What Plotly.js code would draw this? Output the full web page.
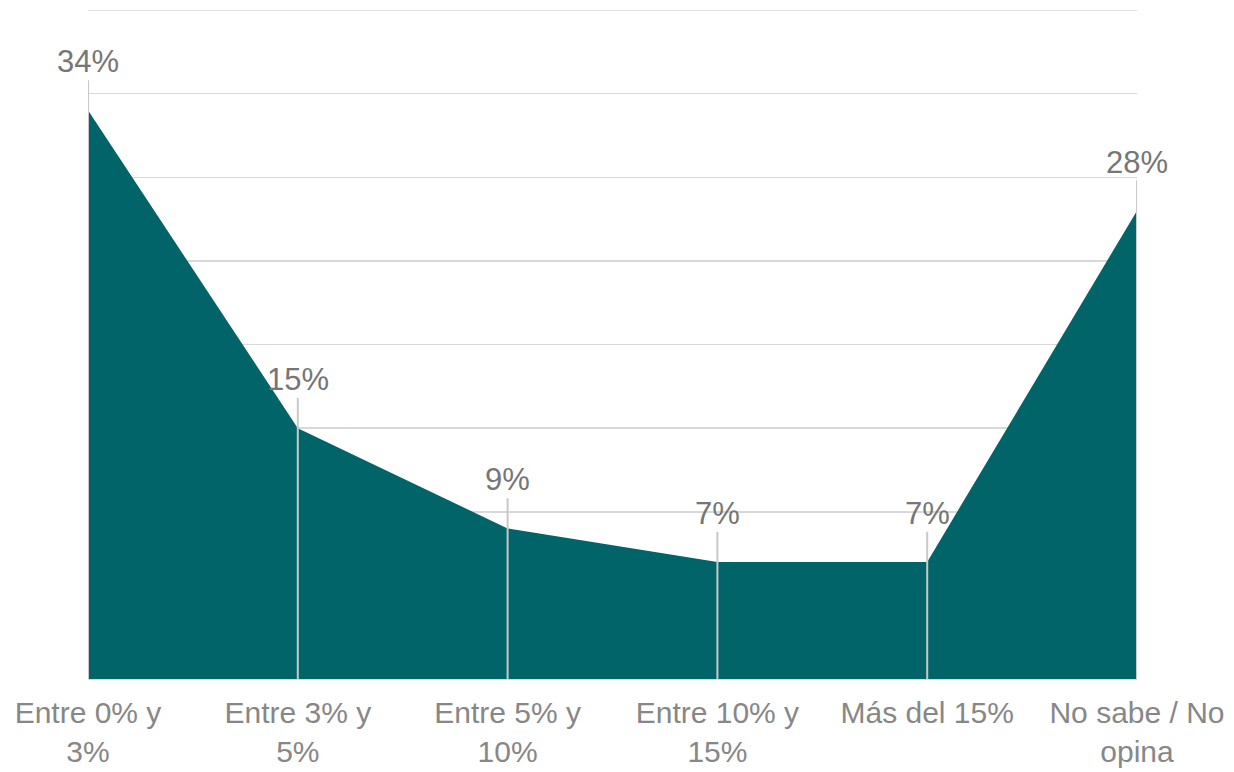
<!DOCTYPE html>
<html>
<head>
<meta charset="utf-8">
<script src="https://cdn.plot.ly/plotly-3.0.1.min.js"></script>
<style>html,body{margin:0;padding:0;background:#fff;}#chart{width:1234px;height:772px;}</style>
</head>
<body>
<div id="chart"></div>
<script>
var categories = ["Entre 0% y<br>3%", "Entre 3% y<br>5%", "Entre 5% y<br>10%", "Entre 10% y<br>15%", "Más del 15%", "No sabe / No<br>opina"];
var values = [34, 15, 9, 7, 7, 28];
var valueLabels = ["34%", "15%", "9%", "7%", "7%", "28%"];

var fillColor = "#006469";
var labelColor = "#767676";
var tickColor = "#878787";

var xs = categories.map(function(_, i){ return i; });

var trace = {
  x: xs,
  y: values,
  type: "scatter",
  mode: "lines",
  fill: "tozeroy",
  fillcolor: fillColor,
  line: {color: fillColor, width: 0},
  hoverinfo: "skip"
};

var shapes = xs.map(function(x, i){
  return {type: "line", xref: "x", yref: "y", x0: x, x1: x, y0: 0, y1: values[i] + 1.8,
          line: {color: "#c8c8c8", width: 2}, layer: "above"};
});
// top gridline at the range end
shapes.unshift({type: "line", xref: "paper", yref: "y", x0: 0, x1: 1, y0: 40, y1: 40,
                line: {color: "#d9d9d9", width: 1.5}, layer: "below"});

var annotations = xs.map(function(x, i){
  return {x: x, y: values[i], xref: "x", yref: "y", text: valueLabels[i], showarrow: false,
          yanchor: "bottom", yshift: 29, font: {family: "Liberation Sans, Arial, sans-serif", size: 31, color: labelColor}};
});

var layout = {
  width: 1234, height: 772,
  margin: {l: 88, r: 97, t: 10, b: 93},
  paper_bgcolor: "#fff", plot_bgcolor: "#fff",
  showlegend: false,
  xaxis: {
    range: [0, 5], tickvals: xs, ticktext: categories,
    showgrid: false, zeroline: false, showline: false, ticks: "",
    ticklabelstandoff: 13,
    tickfont: {family: "Liberation Sans, Arial, sans-serif", size: 30, color: tickColor},
    fixedrange: true
  },
  yaxis: {
    range: [0, 40], dtick: 5, showticklabels: false,
    showgrid: true, gridcolor: "#d9d9d9", gridwidth: 1.5,
    zeroline: true, zerolinecolor: "#d9d9d9", zerolinewidth: 2,
    showline: false, ticks: "", fixedrange: true
  },
  shapes: shapes,
  annotations: annotations
};

Plotly.newPlot("chart", [trace], layout, {displayModeBar: false, staticPlot: true});
</script>
</body>
</html>
